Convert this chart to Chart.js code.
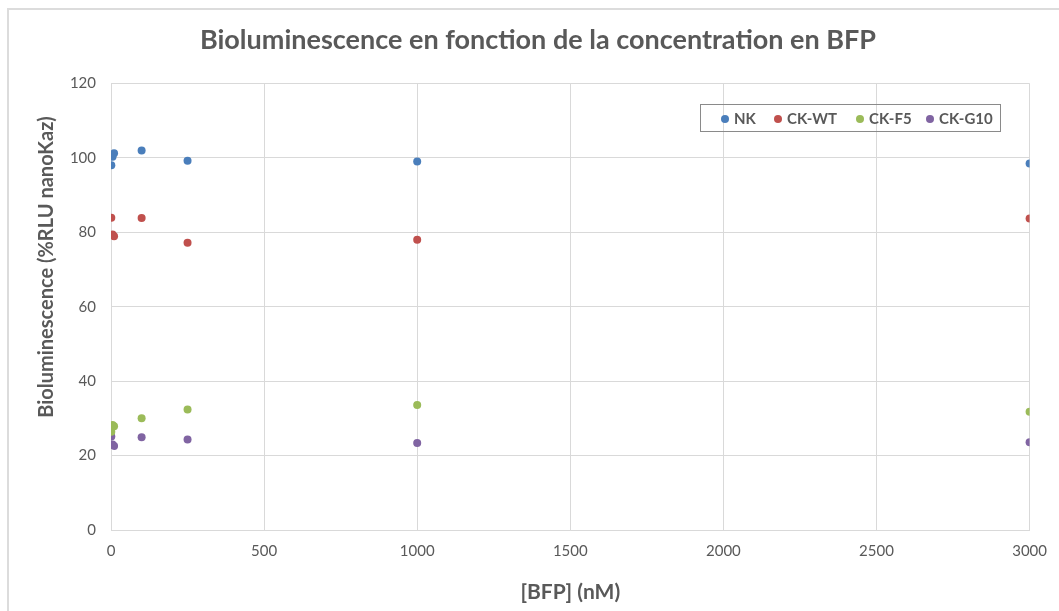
<!DOCTYPE html>
<html>
<head>
<meta charset="utf-8">
<script src="https://cdn.jsdelivr.net/npm/chart.js@4"></script>
<style>
  html, body { margin: 0; padding: 0; background: #fff; }
  #wrap { position: relative; width: 1059px; height: 611px; overflow: hidden; }
  #frame { position: absolute; left: 7px; top: 8px; right: -4px; bottom: -4px; border-top: 2px solid #dcdcdc; border-left: 2px solid #dcdcdc; }
  #myChart { position: absolute; left: 0; top: 0; }
  #legend {
    position: absolute; left: 700px; top: 104px; width: 301px; height: 28px;
    border: 1px solid #8a8a8a; box-sizing: border-box;
    font: bold 15px Lato, sans-serif; color: #595959;
  }
  #legend span { position: absolute; top: 4px; white-space: nowrap; }
  #legend i { display: inline-block; width: 8px; height: 8px; border-radius: 50%; margin-right: 5px; vertical-align: 1px; }
</style>
</head>
<body>
<div id="wrap">
  <div id="frame"></div>
  <canvas id="myChart" width="1059" height="611"></canvas>
  <div id="legend"></div>
</div>
<script>
// Concentrations in nM (first three are the low-dose points near zero)
const concentrations = [1, 5, 10, 100, 250, 1000, 3000];

// Bioluminescence, % of RLU nanoKaz
const nkValues    = [98.0, 100.3, 101.2, 102.0, 99.2, 99.0, 98.5];
const ckWtValues  = [83.9, 79.4, 78.9, 83.8, 77.2, 78.0, 83.7];
const ckF5Values  = [26.4, 28.2, 27.9, 30.0, 32.4, 33.6, 31.8];
const ckG10Values = [25.1, 23.0, 22.6, 24.9, 24.3, 23.4, 23.6];

const seriesNames = ['NK', 'CK-WT', 'CK-F5', 'CK-G10'];
const seriesColors = ['#4a7ebb', '#c0504d', '#9bbb59', '#8064a2'];
const seriesValues = [nkValues, ckWtValues, ckF5Values, ckG10Values];

const yAxisTitle = 'Bioluminescence (%RLU nanoKaz)';

const textColor = '#595959';
const gridColor = '#d9d9d9';

// Legend box with coloured dots
const legendX = [20, 73, 155, 225];
const legendEl = document.getElementById('legend');
seriesNames.forEach((name, i) => {
  const item = document.createElement('span');
  item.style.left = legendX[i] + 'px';
  item.innerHTML = `<i style="background:${seriesColors[i]}"></i>${name}`;
  legendEl.appendChild(item);
});

// Vertical axis title, centred on the whole chart height like the original sheet
const yTitlePlugin = {
  id: 'yTitle',
  afterDraw(chart) {
    const c = chart.ctx;
    c.save();
    c.translate(47, 267);
    c.rotate(-Math.PI / 2);
    c.font = 'bold 20px Lato';
    c.fillStyle = textColor;
    c.textAlign = 'center';
    c.textBaseline = 'middle';
    c.fillText(yAxisTitle, 0, 0);
    c.restore();
  }
};

const datasets = seriesNames.map((name, i) => ({
  label: name,
  data: concentrations.map((c, j) => ({ x: c, y: seriesValues[i][j] })),
  backgroundColor: seriesColors[i],
  borderColor: seriesColors[i],
  pointRadius: 4,
  pointBorderWidth: 0
}));

const ctx = document.getElementById('myChart').getContext('2d');
new Chart(ctx, {
  type: 'scatter',
  data: { datasets: datasets },
  plugins: [yTitlePlugin],
  options: {
    responsive: false,
    animation: false,
    layout: { padding: { left: 43, right: 26, top: 0, bottom: 0 } },
    plugins: {
      legend: { display: false },
      tooltip: { enabled: false },
      title: {
        display: true,
        text: 'Bioluminescence en fonction de la concentration en BFP',
        color: textColor,
        font: { family: 'Lato', size: 27, weight: 'bold' },
        padding: { top: 24, bottom: 27 }
      }
    },
    scales: {
      x: {
        type: 'linear',
        min: 0,
        max: 3000,
        ticks: {
          stepSize: 500,
          color: textColor,
          font: { family: 'Lato', size: 15 },
          padding: 12,
          maxRotation: 0,
          callback: v => String(v)
        },
        grid: { color: gridColor, drawTicks: false },
        border: { color: gridColor },
        title: {
          display: true,
          text: '[BFP] (nM)',
          color: textColor,
          font: { family: 'Lato', size: 21, weight: 'bold' },
          padding: { top: 0, bottom: 6 }
        },
        afterFit: scale => { scale.height = 81; }
      },
      y: {
        min: 0,
        max: 120,
        ticks: {
          stepSize: 20,
          color: textColor,
          font: { family: 'Lato', size: 15 },
          padding: 15
        },
        grid: { color: gridColor, drawTicks: false },
        border: { color: gridColor },
        afterFit: scale => { scale.width = 68; }
      }
    }
  }
});
</script>
</body>
</html>
